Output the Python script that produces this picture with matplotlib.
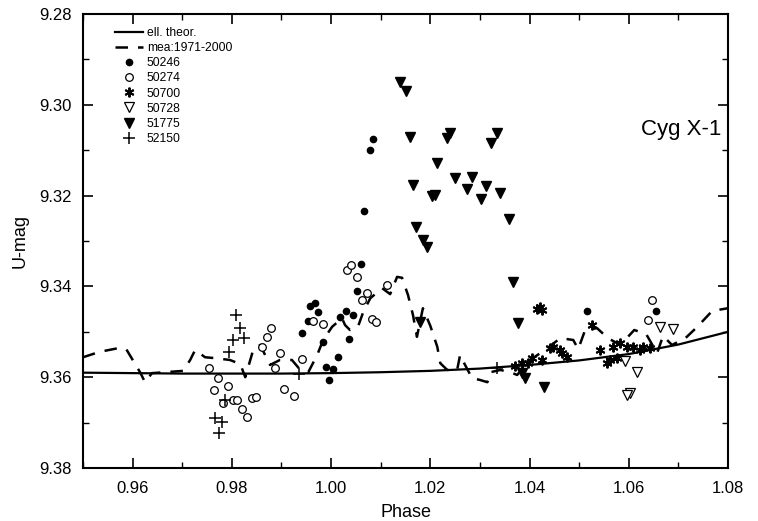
import matplotlib
matplotlib.use('Agg')
import matplotlib.pyplot as plt
from matplotlib.ticker import MultipleLocator, FormatStrFormatter

plt.rcParams['font.family'] = ['Liberation Sans', 'DejaVu Sans']

# ellipsoidal theoretical curve
theor_phase = [0.95, 0.96, 0.97, 0.98, 0.99, 1.00, 1.01, 1.02, 1.03, 1.04, 1.05, 1.06, 1.07, 1.08]
theor_mag = [9.3590, 9.3591, 9.3592, 9.3592, 9.3592, 9.3591, 9.3589, 9.3586, 9.3581, 9.3573,
             9.3563, 9.3549, 9.3528, 9.3500]

# mean light curve 1971-2000
mean_phase = [0.9500, 0.9534, 0.9571, 0.9587, 0.9615, 0.9625, 0.9639, 0.9665, 0.9702, 0.9716,
              0.9726, 0.9746, 0.9766, 0.9796, 0.9817, 0.9827, 0.9843, 0.9857, 0.9877, 0.9897,
              0.9921, 0.9938, 0.9954, 0.9972, 0.9984, 1.0002, 1.0022, 1.0028, 1.0038, 1.0054,
              1.0065, 1.0079, 1.0103, 1.0119, 1.0133, 1.0143, 1.0155, 1.0165, 1.0173, 1.0185,
              1.0200, 1.0214, 1.0220, 1.0234, 1.0254, 1.0260, 1.0270, 1.0284, 1.0300, 1.0315,
              1.0321, 1.0341, 1.0361, 1.0375, 1.0401, 1.0431, 1.0462, 1.0488, 1.0498, 1.0512,
              1.0536, 1.0558, 1.0583, 1.0611, 1.0635, 1.0657, 1.0669, 1.0687, 1.0714, 1.0738,
              1.0768, 1.0800]
mean_mag = [9.3556, 9.3544, 9.3536, 9.3538, 9.3589, 9.3611, 9.3591, 9.3589, 9.3586, 9.3562,
            9.3540, 9.3556, 9.3558, 9.3562, 9.3571, 9.3600, 9.3540, 9.3529, 9.3573, 9.3562,
            9.3562, 9.3584, 9.3589, 9.3551, 9.3518, 9.3489, 9.3470, 9.3485, 9.3496, 9.3489,
            9.3456, 9.3426, 9.3404, 9.3417, 9.3379, 9.3381, 9.3419, 9.3463, 9.3511, 9.3448,
            9.3487, 9.3533, 9.3569, 9.3584, 9.3584, 9.3551, 9.3573, 9.3602, 9.3606, 9.3611,
            9.3589, 9.3584, 9.3589, 9.3595, 9.3562, 9.3540, 9.3514, 9.3518, 9.3538, 9.3496,
            9.3492, 9.3514, 9.3529, 9.3496, 9.3505, 9.3547, 9.3509, 9.3529, 9.3514, 9.3489,
            9.3454, 9.3448]

p50246 = [1.0085, 1.0078, 1.0067, 1.0060, 1.0052, 0.9968, 0.9958, 0.9974, 0.9954, 0.9942,
          1.0030, 1.0018, 1.0044, 0.9984, 1.0036, 1.0014, 0.9990, 1.0004, 0.9996, 1.0516, 1.0655]
m50246 = [9.3075, 9.3100, 9.3234, 9.3351, 9.3410, 9.3437, 9.3443, 9.3456, 9.3476, 9.3503,
          9.3454, 9.3467, 9.3463, 9.3522, 9.3516, 9.3555, 9.3578, 9.3582, 9.3606, 9.3454, 9.3454]

p50274 = [0.9754, 0.9772, 0.9764, 0.9792, 0.9782, 0.9802, 0.9810, 0.9821, 0.9831, 0.9841,
          0.9849, 0.9861, 0.9871, 0.9879, 0.9887, 0.9905, 0.9925, 0.9942, 0.9964, 0.9984,
          1.0032, 1.0040, 1.0052, 1.0062, 1.0073, 1.0083, 1.0091, 1.0113, 1.0647, 1.0639, 0.9897]
m50274 = [9.3580, 9.3602, 9.3628, 9.3619, 9.3657, 9.3650, 9.3650, 9.3670, 9.3688, 9.3646,
          9.3644, 9.3533, 9.3511, 9.3492, 9.3580, 9.3626, 9.3641, 9.3560, 9.3476, 9.3483,
          9.3364, 9.3353, 9.3379, 9.3430, 9.3415, 9.3472, 9.3478, 9.3397, 9.3430, 9.3474, 9.3547]

p50700 = [1.0415, 1.0425, 1.0421, 1.0397, 1.0425, 1.0442, 1.0448, 1.0462, 1.0466, 1.0476,
          1.0526, 1.0542, 1.0556, 1.0562, 1.0568, 1.0577, 1.0583, 1.0597, 1.0609, 1.0623,
          1.0629, 1.0643, 1.0371, 1.0385, 1.0405]
m50700 = [9.3450, 9.3452, 9.3446, 9.3569, 9.3562, 9.3536, 9.3533, 9.3540, 9.3547, 9.3555,
          9.3485, 9.3540, 9.3569, 9.3562, 9.3533, 9.3558, 9.3525, 9.3533, 9.3533, 9.3540,
          9.3533, 9.3536, 9.3575, 9.3569, 9.3558]

p50728 = [1.0593, 1.0617, 1.0603, 1.0597, 1.0689, 1.0663]
m50728 = [9.3564, 9.3589, 9.3635, 9.3639, 9.3494, 9.3489]

p51775 = [1.0139, 1.0151, 1.0159, 1.0240, 1.0234, 1.0335, 1.0323, 1.0214, 1.0165, 1.0204,
          1.0210, 1.0250, 1.0284, 1.0274, 1.0312, 1.0302, 1.0341, 1.0359, 1.0171, 1.0185,
          1.0194, 1.0367, 1.0377, 1.0429, 1.0391, 1.0385, 1.0179]
m51775 = [9.2950, 9.2970, 9.3071, 9.3062, 9.3073, 9.3062, 9.3084, 9.3128, 9.3177, 9.3201,
          9.3199, 9.3161, 9.3159, 9.3185, 9.3179, 9.3207, 9.3194, 9.3252, 9.3269, 9.3298,
          9.3313, 9.3390, 9.3481, 9.3622, 9.3602, 9.3591, 9.3478]

p52150 = [0.9808, 0.9817, 0.9802, 0.9825, 0.9794, 0.9786, 0.9766, 0.9780, 0.9774, 0.9935, 1.0335]
m52150 = [9.3463, 9.3492, 9.3518, 9.3514, 9.3544, 9.3650, 9.3690, 9.3699, 9.3723, 9.3593, 9.3580]

fig = plt.figure(figsize=(7.58, 5.21), dpi=100)
ax = fig.add_axes([0.1095, 0.1017, 0.851, 0.8714])

ax.plot(theor_phase, theor_mag, '-', color='black', lw=1.6, label='ell. theor.')
ax.plot(mean_phase, mean_mag, '--', color='black', lw=1.8, dashes=(5, 4), label='mea:1971-2000')
ax.plot(p50246, m50246, 'o', color='black', ms=4.5, ls='none', label='50246')
ax.plot(p50274, m50274, 'o', mfc='white', mec='black', mew=0.9, ms=5.5, ls='none', label='50274')
ax.plot(p50700, m50700, marker=(6, 2, 0), color='black', ms=7, mew=1.4, ls='none', label='50700')
ax.plot(p50728, m50728, 'v', mfc='white', mec='black', mew=0.9, ms=6.5, ls='none', label='50728')
ax.plot(p51775, m51775, 'v', color='black', ms=6.5, ls='none', label='51775')
ax.plot(p52150, m52150, '+', color='black', ms=8, mew=1.1, ls='none', label='52150')

ax.set_xlim(0.95, 1.08)
ax.set_ylim(9.38, 9.28)
ax.xaxis.set_major_locator(MultipleLocator(0.02))
ax.xaxis.set_minor_locator(MultipleLocator(0.01))
ax.yaxis.set_major_locator(MultipleLocator(0.02))
ax.yaxis.set_minor_locator(MultipleLocator(0.01))
ax.xaxis.set_major_formatter(FormatStrFormatter('%.2f'))
ax.yaxis.set_major_formatter(FormatStrFormatter('%.2f'))
ax.tick_params(which='both', direction='in', top=True, right=True, labelsize=12)
ax.tick_params(axis='x', which='major', pad=9)
ax.tick_params(axis='y', which='major', pad=8)
ax.tick_params(which='major', length=7, width=1.2)
ax.tick_params(which='minor', length=4, width=1)
for s in ax.spines.values():
    s.set_linewidth(1.5)

ax.set_xlabel('Phase', fontsize=13, labelpad=6)
ax.set_ylabel('U-mag', fontsize=13, labelpad=8)
ax.text(1.0705, 9.3055, 'Cyg X-1', fontsize=16, ha='center', va='center')

ax.legend(loc='upper left', bbox_to_anchor=(0.042, 0.982), borderaxespad=0, frameon=False,
          fontsize=8.7, handlelength=2.3, labelspacing=0.26, borderpad=0.4, handletextpad=0.33)

fig.savefig('out.png', dpi=100)
